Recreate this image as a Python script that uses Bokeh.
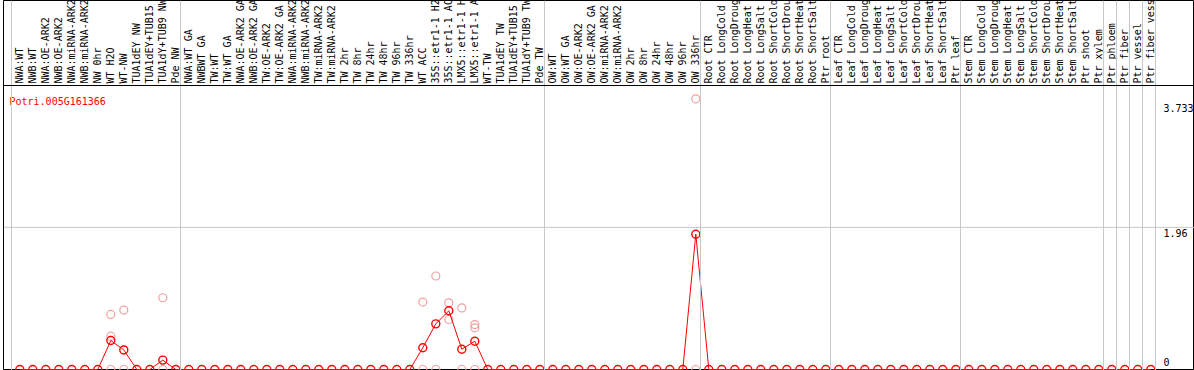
import math
from bokeh.plotting import figure
from bokeh.models import Range1d, Span
from bokeh.core.properties import value
from bokeh.embed import file_html
from bokeh.resources import INLINE

gene = "Potri.005G161366"

group_sizes = [13, 28, 12, 10, 10, 11, 1, 1, 1, 1]

labels = [
    # group 1
    "NWA:WT", "NWB:WT", "NWA:OE-ARK2", "NWB:OE-ARK2", "NWA:miRNA-ARK2", "NWB:miRNA-ARK2",
    "NW 0hr", "WT H2O", "WT-NW", "TUA1dEY NW", "TUA1dEY+TUB15 NW", "TUA1dY+TUB9 NW", "Pde NW",
    # group 2
    "NWA:WT GA", "NWBWT GA", "TW:WT", "TW:WT GA", "NWA:OE-ARK2 GA", "NWB:OE-ARK2 GA",
    "TW:OE-ARK2", "TW:OE-ARK2 GA", "NWA:miRNA-ARK2", "NWB:miRNA-ARK2", "TW:miRNA-ARK2",
    "TW:miRNA-ARK2", "TW 2hr", "TW 8hr", "TW 24hr", "TW 48hr", "TW 96hr", "TW 336hr", "WT ACC",
    "35S::etr1-1 H2O", "35S::etr1-1 ACC", "LMX5::etr1-1 H2O", "LMX5::etr1-1 ACC", "WT-TW",
    "TUA1dEY TW", "TUA1dEY+TUB15 TW", "TUA1dY+TUB9 TW", "Pde TW",
    # group 3
    "OW:WT", "OW:WT GA", "OW:OE-ARK2", "OW:OE-ARK2 GA", "OW:miRNA-ARK2", "OW:miRNA-ARK2",
    "OW 2hr", "OW 8hr", "OW 24hr", "OW 48hr", "OW 96hr", "OW 336hr",
    # group 4
    "Root CTR", "Root LongCold", "Root LongDrought", "Root LongHeat", "Root LongSalt",
    "Root ShortCold", "Root ShortDrought", "Root ShortHeat", "Root ShortSalt", "Ptr root",
    # group 5
    "Leaf CTR", "Leaf LongCold", "Leaf LongDrought", "Leaf LongHeat", "Leaf LongSalt",
    "Leaf ShortCold", "Leaf ShortDrought", "Leaf ShortHeat", "Leaf ShortSalt", "Ptr leaf",
    # group 6
    "Stem CTR", "Stem LongCold", "Stem LongDrought", "Stem LongHeat", "Stem LongSalt",
    "Stem ShortCold", "Stem ShortDrought", "Stem ShortHeat", "Stem ShortSalt", "Ptr shoot",
    "Ptr xylem",
    # single groups
    "Ptr phloem", "Ptr fiber", "Ptr vessel", "Ptr fiber vessel",
]

mean_expr = [
    # group 1
    0, 0, 0, 0, 0, 0, 0, 0.40, 0.27, 0, 0, 0.13, 0,
    # group 2
    0, 0, 0, 0, 0, 0, 0, 0, 0, 0, 0, 0, 0, 0, 0, 0, 0, 0,
    0.30, 0.63, 0.81, 0.28, 0.39, 0, 0, 0, 0, 0,
    # group 3
    0, 0, 0, 0, 0, 0, 0, 0, 0, 0, 0, 1.866,
    # group 4
    0, 0, 0, 0, 0, 0, 0, 0, 0, 0,
    # group 5
    0, 0, 0, 0, 0, 0, 0, 0, 0, 0,
    # group 6
    0, 0, 0, 0, 0, 0, 0, 0, 0, 0, 0,
    # singles
    0, 0, 0, 0,
]

# replicate values (column index, value)
rep_col = [7, 7, 7, 8, 8, 11, 11, 31, 31, 32, 32, 33, 33, 34, 34, 35, 35, 35, 52, 52]
rep_val = [0.76, 0.46, 0, 0.82, 0, 0.99, 0, 0.93, 0, 1.29, 0, 0.92, 0.69, 0.85, 0,
           0.62, 0.575, 0, 3.733, 0]

tick_vals = [3.733, 1.96, 0]
tick_text = ["3.733", "1.96", "0"]

# ---------------- layout (pixel geometry) ----------------
W, H = 1194, 370
FRAME_LEFT = 3        # px left of chart box
COL = 13.0            # px per column
X0 = 11.0             # px of first column boundary
PPU = 72.5            # px per expression unit
ZERO = 369.0          # px (from top) of zero line


def ypx(py):
    return (ZERO - py) / PPU


def xpx(px):
    return (px - X0) / COL


n = len(labels)
p = figure(width=W, height=H, output_backend="svg", toolbar_location=None,
           x_range=Range1d(xpx(FRAME_LEFT), xpx(W)), y_range=Range1d(ypx(H), ypx(0)),
           x_axis_location=None, y_axis_location=None,
           min_border_left=FRAME_LEFT, min_border_right=0, min_border_top=0,
           min_border_bottom=0,
           outline_line_color="black", outline_line_width=1)
p.grid.visible = False
p.background_fill_color = "white"
p.border_fill_color = "white"

mono = value("DejaVu Sans Mono")

# group separators
b = 0
bounds = [0]
for g in group_sizes:
    b += g
    bounds.append(b)
for bx in bounds:
    p.add_layout(Span(location=bx, dimension="height", line_color="#c8c8c8", line_width=1))

p.add_layout(Span(location=1.96, dimension="width", line_color="#c8c8c8", line_width=1))
p.add_layout(Span(location=ypx(85), dimension="width", line_color="black", line_width=1))

# labels
lab_x = [i + 0.5 + 1.0 / COL for i in range(n)]
p.text(x=lab_x, y=[ypx(83)] * n, text=labels, angle=math.pi / 2,
       text_font=mono, text_font_size="10px", text_align="left",
       text_baseline="middle", text_color="black")

# replicates
pt_shift = 0.5 + 1.8 / COL
p.scatter(x=[c + pt_shift for c in rep_col], y=rep_val, marker="circle", size=8,
          fill_color=None, line_color="#f0a0a0", line_width=1.2)

# means
mx = [i + pt_shift for i in range(n)]
p.line(x=mx, y=mean_expr, line_color="red", line_width=1)
p.scatter(x=mx, y=mean_expr, marker="circle", size=8, fill_color=None,
          line_color="red", line_width=1.4)

# gene title
p.text(x=[xpx(9)], y=[ypx(101)], text=[gene], text_font=mono, text_font_size="10px",
       text_align="left", text_baseline="alphabetic", text_color="red")

# value ticks on the right
tx = xpx(1163)
p.text(x=[tx], y=tick_vals[:1], text=tick_text[:1], text_font=mono,
       text_font_size="10px", text_align="left", text_baseline="top",
       text_color="black", y_offset=5)
p.text(x=[tx], y=tick_vals[1:2], text=tick_text[1:2], text_font=mono,
       text_font_size="10px", text_align="left", text_baseline="top",
       text_color="black", y_offset=2)
p.text(x=[tx], y=tick_vals[2:], text=tick_text[2:], text_font=mono,
       text_font_size="10px", text_align="left", text_baseline="bottom",
       text_color="black", y_offset=-4)

open("out.html", "w").write(file_html(p, INLINE))
